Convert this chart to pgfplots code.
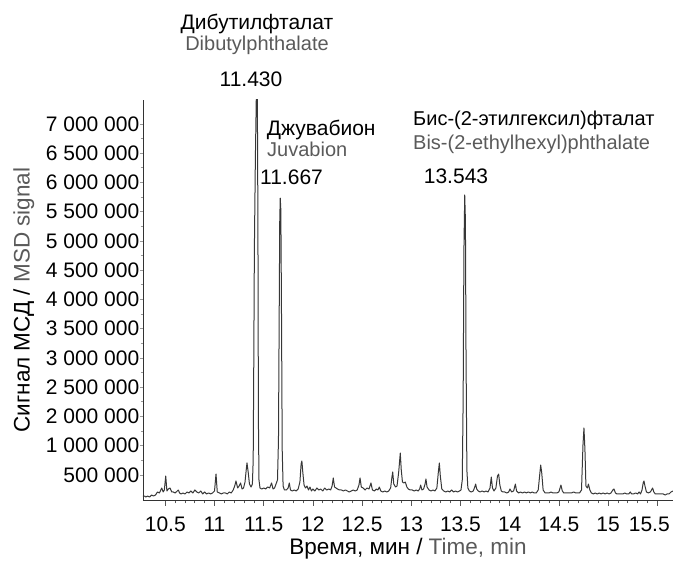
\documentclass[border=0pt]{standalone}
\usepackage{fontspec}
\setmainfont{Liberation Sans}
\usepackage{pgfplots}
\pgfplotsset{compat=1.18}
\definecolor{txtgrey}{RGB}{90,90,90}
\definecolor{sig}{RGB}{55,55,55}
\newcommand\fa{\fontsize{21}{24}\selectfont}
\newcommand\fab{\fontsize{20}{24}\selectfont}
\newcommand\fb{\fontsize{20}{22}\selectfont}
\newcommand\fc{\fontsize{22.5}{26}\selectfont}
\begin{document}
\begin{tikzpicture}[x=1pt,y=1pt]
\useasboundingbox (0,0) rectangle (673,561);
\begin{axis}[
  at={(143pt,61pt)}, anchor=south west,
  width=530pt, height=400pt, scale only axis,
  xmin=10.273, xmax=15.66, ymin=571000, ymax=7409000,
  axis x line*=bottom, axis y line*=left,
  axis line style={-, draw=black!80, line width=0.9pt},
  xtick={10.5,11,11.5,12,12.5,13,13.5,14,14.5,15,15.5},
  xticklabels={10.5,11,11.5,12,12.5,13,13.5,14,14.5,15,\hspace*{-16pt}15.5},
  minor x tick num=4,
  ytick={1000000,1500000,2000000,2500000,3000000,3500000,4000000,4500000,5000000,5500000,6000000,6500000,7000000},
  yticklabels={500 000,1 000 000,2 000 000,2 500 000,3 000 000,3 500 000,4 000 000,4 500 000,5 000 000,5 500 000,6 000 000,6 500 000,7 000 000},
  minor y tick num=1,
  scaled y ticks=false, scaled x ticks=false,
  tick align=outside,
  major tick length=6pt, minor tick length=3.5pt,
  tick style={draw=black!65, line width=0.7pt},
  ytick style={draw=black!40, line width=0.6pt, /pgfplots/major tick length=3pt, /pgfplots/minor tick length=2pt},
  ticklabel style={font=\fa},
  xticklabel style={anchor=base, yshift=-25.5pt},
  yticklabel style={anchor=east, inner xsep=1pt, xshift=3.5pt},
  xlabel={Время, мин / \textcolor{txtgrey}{Time, min}},
  ylabel={Сигнал МСД / \textcolor{txtgrey}{MSD signal}},
  label style={font=\fc},
  xlabel style={at={(axis description cs:0.5,-0.1375)}, anchor=base},
  ylabel style={at={(axis description cs:-0.214,0.5)}, anchor=base},
]
\addplot[sig, line width=1pt, line join=round] table {
t v
10.273 639000
10.29 639000
10.30 622000
10.32 639000
10.34 622000
10.36 656000
10.38 639000
10.40 656000
10.42 708000
10.44 691000
10.463 776000
10.478 708000
10.49 742000
10.504 981000
10.516 725000
10.53 759000
10.548 776000
10.565 708000
10.58 708000
10.60 691000
10.632 742000
10.645 691000
10.66 674000
10.68 691000
10.70 674000
10.72 708000
10.74 691000
10.76 725000
10.78 691000
10.80 742000
10.82 708000
10.84 691000
10.86 725000
10.88 674000
10.90 708000
10.92 674000
10.94 691000
10.96 674000
10.98 691000
11.00 725000
11.015 1015000
11.028 708000
11.05 691000
11.07 674000
11.09 691000
11.11 691000
11.13 674000
11.15 708000
11.17 691000
11.19 742000
11.205 810000
11.218 896000
11.235 776000
11.25 810000
11.265 862000
11.28 759000
11.295 776000
11.31 879000
11.322 1084000
11.33 1204000
11.342 1050000
11.355 844000
11.371 793000
11.385 844000
11.393 1255000
11.398 2622000
11.405 4845000
11.415 6383000
11.425 7500000
11.435 7500000
11.441 5357000
11.446 1939000
11.452 913000
11.462 776000
11.48 759000
11.50 776000
11.52 759000
11.54 793000
11.56 776000
11.58 862000
11.595 759000
11.61 776000
11.625 844000
11.64 913000
11.65 1597000
11.657 3648000
11.663 5357000
11.668 5733000
11.674 5528000
11.68 3990000
11.688 1426000
11.697 810000
11.71 742000
11.73 742000
11.748 776000
11.76 862000
11.772 742000
11.79 725000
11.81 742000
11.83 725000
11.85 759000
11.868 879000
11.88 1186000
11.888 1238000
11.897 1050000
11.91 827000
11.925 776000
11.94 810000
11.955 742000
11.97 793000
11.985 725000
12.00 759000
12.02 725000
12.04 776000
12.06 742000
12.08 759000
12.10 725000
12.12 776000
12.14 742000
12.16 759000
12.18 742000
12.195 810000
12.207 947000
12.22 793000
12.235 776000
12.25 759000
12.27 742000
12.29 742000
12.31 725000
12.33 742000
12.35 725000
12.37 708000
12.39 725000
12.41 742000
12.43 725000
12.45 742000
12.468 827000
12.479 947000
12.492 793000
12.51 776000
12.53 742000
12.55 776000
12.57 759000
12.59 862000
12.605 742000
12.625 725000
12.645 759000
12.66 742000
12.675 793000
12.69 725000
12.71 708000
12.73 725000
12.75 708000
12.77 725000
12.79 776000
12.802 947000
12.811 1050000
12.822 844000
12.84 793000
12.855 810000
12.872 1050000
12.888 1374000
12.898 1084000
12.91 879000
12.925 862000
12.939 879000
12.955 793000
12.97 759000
12.99 742000
13.01 742000
13.03 725000
13.05 742000
13.07 725000
13.085 759000
13.095 827000
13.108 742000
13.125 759000
13.14 844000
13.149 930000
13.16 793000
13.18 742000
13.20 725000
13.22 742000
13.24 725000
13.26 776000
13.275 1050000
13.285 1204000
13.295 981000
13.31 759000
13.33 725000
13.35 708000
13.37 725000
13.39 708000
13.41 742000
13.43 708000
13.45 725000
13.47 708000
13.49 725000
13.505 742000
13.518 913000
13.527 2280000
13.535 4845000
13.543 5785000
13.55 5357000
13.556 3135000
13.565 1084000
13.575 776000
13.59 725000
13.61 708000
13.63 725000
13.645 793000
13.654 844000
13.665 759000
13.68 725000
13.70 708000
13.72 725000
13.74 708000
13.76 725000
13.78 708000
13.80 776000
13.813 964000
13.825 776000
13.84 725000
13.86 776000
13.876 981000
13.888 1015000
13.90 827000
13.915 725000
13.93 708000
13.95 708000
13.97 691000
13.99 708000
14.003 759000
14.02 708000
14.04 725000
14.058 844000
14.07 725000
14.09 691000
14.11 708000
14.13 691000
14.15 708000
14.17 691000
14.19 708000
14.21 691000
14.23 708000
14.25 691000
14.27 691000
14.29 742000
14.305 998000
14.315 1169000
14.325 1050000
14.34 742000
14.36 691000
14.38 691000
14.40 691000
14.42 708000
14.44 691000
14.46 691000
14.48 691000
14.50 708000
14.512 776000
14.521 827000
14.535 725000
14.55 691000
14.57 691000
14.59 691000
14.61 691000
14.63 691000
14.65 708000
14.67 691000
14.69 691000
14.71 691000
14.73 742000
14.745 1511000
14.755 1802000
14.765 1426000
14.775 810000
14.79 776000
14.80 844000
14.815 742000
14.83 691000
14.85 674000
14.87 691000
14.89 674000
14.91 691000
14.93 674000
14.95 691000
14.97 674000
14.99 691000
15.01 674000
15.03 691000
15.048 742000
15.06 759000
15.075 691000
15.09 674000
15.11 674000
15.13 674000
15.15 674000
15.17 691000
15.19 674000
15.21 674000
15.225 708000
15.24 674000
15.26 674000
15.28 691000
15.30 674000
15.315 708000
15.33 674000
15.345 742000
15.357 862000
15.365 896000
15.375 810000
15.39 708000
15.41 691000
15.43 708000
15.453 776000
15.465 708000
15.48 674000
15.50 674000
15.52 674000
15.54 674000
15.56 674000
15.58 656000
15.60 674000
15.62 674000
15.64 708000
15.66 725000
};
\end{axis}
\node[font=\fa, anchor=base, inner sep=0pt] at (257,531.5) {Дибутилфталат};
\node[font=\fb, anchor=base, inner sep=0pt, text=txtgrey] at (257,510) {Dibutylphthalate};
\node[font=\fa, anchor=base, inner sep=0pt] at (251,474.5) {11.430};
\node[font=\fa, anchor=base west, inner sep=0pt] at (266.7,425.5) {Джувабион};
\node[font=\fb, anchor=base west, inner sep=0pt, text=txtgrey] at (267,404) {Juvabion};
\node[font=\fa, anchor=base west, inner sep=0pt] at (260,376.5) {11.667};
\node[font=\fab, anchor=base west, inner sep=0pt] at (413,435.5) {Бис-(2-этилгексил)фталат};
\node[font=\fb, anchor=base west, inner sep=0pt, text=txtgrey] at (413,411) {Bis-(2-ethylhexyl)phthalate};
\node[font=\fa, anchor=base, inner sep=0pt] at (456,377.5) {13.543};
\end{tikzpicture}
\end{document}
